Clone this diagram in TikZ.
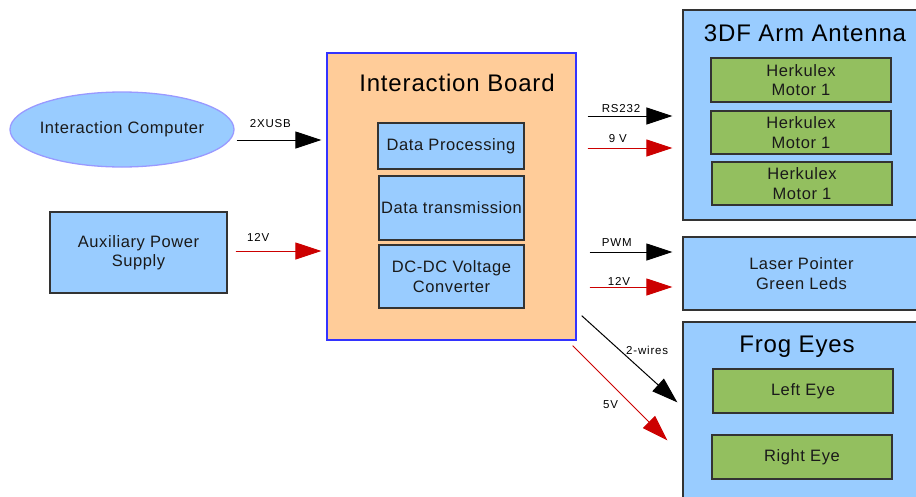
\documentclass[tikz,border=0pt]{standalone}
\usepackage{fontspec}
\setmainfont{Liberation Sans}[LetterSpace=3.5]
\newfontfamily\wirefont{Liberation Sans}[LetterSpace=7]
\usetikzlibrary{arrows.meta,shapes.geometric}

\definecolor{boxblue}{HTML}{99CCFF}
\definecolor{boardorange}{HTML}{FFCC99}
\definecolor{motorgreen}{HTML}{93BF5F}
\definecolor{wirered}{HTML}{CC0000}
\definecolor{edgegray}{HTML}{333333}
\definecolor{boardedge}{HTML}{3333FF}
\definecolor{ovaledge}{HTML}{9999FF}
\definecolor{inkgray}{HTML}{1A1A1A}

\begin{document}
\begin{tikzpicture}[x=1pt,y=-1pt,
	block/.style={draw=edgegray,fill=boxblue,line width=1.3pt,inner sep=0pt,align=center,
		text=inkgray,font=\fontsize{16.5}{19.5}\selectfont},
	part/.style={block,fill=motorgreen},
	title/.style={font=\fontsize{24}{28}\selectfont},
	sig/.style={line width=1pt,-{Triangle[length=26pt,width=17pt]}},
	pwr/.style={sig,draw=wirered,fill=wirered},
	lbl/.style={font=\wirefont\fontsize{11.5}{13}\selectfont,inner sep=0pt,text=black}]
\useasboundingbox (0,0) rectangle (916,496);
% sources on the left
\node[ellipse,draw=ovaledge,fill=boxblue,line width=1.3pt,minimum width=224pt,minimum height=75pt,
	inner xsep=-5pt,inner ysep=0pt,text=inkgray,font=\fontsize{16.5}{19.5}\selectfont] (pc) at (122,129.5) {Interaction Computer};
\node[block,minimum width=177pt,minimum height=81pt] (aux) at (138.5,252.5) {Auxiliary Power\\Supply};
% the board
\node[draw=boardedge,fill=boardorange,line width=1.3pt,minimum width=249pt,minimum height=287pt] (board) at (451.5,196.5) {};
\node[title] (boardtitle) at (457,83) {Interaction Board};
\node[block,minimum width=146pt,minimum height=46pt] (proc) at (451,146) {Data Processing};
\node[block,minimum width=145pt,minimum height=64pt] (trans) at (451.5,208) {Data transmission};
\node[block,minimum width=145pt,minimum height=63pt] (conv) at (451.5,276.5) {DC-DC Voltage\\Converter};
% arm
\node[block,minimum width=237pt,minimum height=210pt] (arm) at (801.5,115) {};
\node[title] (armtitle) at (805,33) {3DF Arm Antenna};
\node[part,minimum width=180pt,minimum height=44pt] (motorA) at (801,80) {Herkulex\\Motor 1};
\node[part,minimum width=180pt,minimum height=43pt] (motorB) at (801,132.5) {Herkulex\\Motor 1};
\node[part,minimum width=180pt,minimum height=43pt] (motorC) at (802,183.5) {Herkulex\\Motor 1};
% laser
\node[block,minimum width=237pt,minimum height=73pt] (laser) at (801.5,273.5) {Laser Pointer\\Green Leds};
% eyes
\node[block,minimum width=237pt,minimum height=178pt] (frog) at (801.5,411) {};
\node[title] (frogtitle) at (797,347) {Frog Eyes};
\node[part,minimum width=180pt,minimum height=44pt] (lefteye) at (803,391) {Left Eye};
\node[part,minimum width=180pt,minimum height=44pt] (righteye) at (802,457) {Right Eye};
% wires
\draw[sig,shorten <=2pt,shorten >=5pt] (pc.east |- 0,140) -- (board.west |- 0,140)
	node[lbl,pos=0.39,above=11.5pt] {2XUSB};
\draw[pwr,shorten <=8pt,shorten >=5pt] (aux.east |- 0,251) -- (board.west |- 0,251)
	node[lbl,pos=0.31,above=9.5pt] {12V};
\draw[sig,shorten <=11pt,shorten >=10pt] (board.east |- 0,116) -- (arm.west |- 0,116)
	node[lbl,pos=0.42,above=3pt] {RS232};
\draw[pwr,shorten <=11pt,shorten >=10pt] (board.east |- 0,148) -- (arm.west |- 0,148)
	node[lbl,pos=0.39,above=5pt] {9 V};
\draw[sig,shorten <=13pt,shorten >=10pt] (board.east |- 0,252) -- (laser.west |- 0,252)
	node[lbl,pos=0.38,above=5pt] {PWM};
\draw[pwr,shorten <=13pt,shorten >=10pt] (board.east |- 0,287) -- (laser.west |- 0,287)
	node[lbl,pos=0.4,above=1pt] {12V};
\draw[sig] ([shift={(5,-25)}]board.south east) -- ([shift={(-5,81)}]frog.north west)
	node[lbl,pos=0.45,anchor=south west,xshift=1pt] {2-wires};
\draw[pwr] ([shift={(-4,5)}]board.south east) -- ([shift={(-15,119)}]frog.north west)
	node[lbl,pos=0.4,below=17pt] {5V};
\end{tikzpicture}
\end{document}
